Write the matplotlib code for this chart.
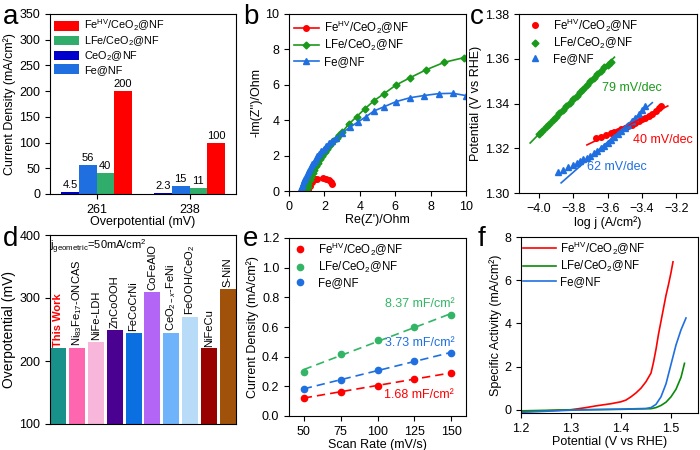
import numpy as np
import matplotlib
matplotlib.use("Agg")
import matplotlib.pyplot as plt

plt.rcParams['font.family'] = ['Liberation Sans', 'DejaVu Sans']
plt.rcParams['mathtext.fontset'] = 'custom'
plt.rcParams['mathtext.rm'] = 'Liberation Sans'
plt.rcParams['mathtext.it'] = 'Liberation Sans:italic'
plt.rcParams['mathtext.bf'] = 'Liberation Sans:bold'
plt.rcParams['font.size'] = 9
plt.rcParams['axes.linewidth'] = 0.8
plt.rcParams['xtick.major.size'] = 3.5
plt.rcParams['ytick.major.size'] = 3.5
plt.rcParams['xtick.major.width'] = 0.8
plt.rcParams['ytick.major.width'] = 0.8

RED = '#ff0000'
GREEN = '#1a991a'
BLUE = '#1f6fe0'
LAB_HV = r'Fe$^{\rm HV}$/CeO$_2$@NF'
LAB_L = r'LFe/CeO$_2$@NF'
LAB_FE = 'Fe@NF'

# a: current density at two overpotentials
groups_a = ['261', '238']
a_ceo2 = [4.5, 2.3]
a_fe = [56, 15]
a_lfe = [40, 11]
a_hv = [200, 100]

# b: Nyquist plots
b_hv_x = [1.1, 1.2, 1.3, 1.45, 1.6, 1.9, 2.1, 2.25, 2.35, 2.45]
b_hv_y = [0.05, 0.3, 0.5, 0.65, 0.7, 0.72, 0.68, 0.6, 0.5, 0.42]
b_l_x = [1.0, 1.05, 1.1, 1.17, 1.25, 1.33, 1.42, 1.52, 1.63, 1.75, 1.88, 2.02, 2.17, 2.33,
         2.5, 2.7, 2.85, 3.02, 3.37, 3.82, 4.27, 4.8, 5.37, 6.05, 6.84, 7.73, 8.77, 9.87]
b_l_y = [0.0, 0.2, 0.4, 0.6, 0.8, 1.0, 1.2, 1.4, 1.6, 1.8, 2.0, 2.2, 2.4, 2.6,
         2.8, 3.0, 3.15, 3.35, 3.77, 4.2, 4.63, 5.1, 5.5, 5.99, 6.4, 6.84, 7.27, 7.53]
b_fe_x = [0.65, 0.7, 0.75, 0.8, 0.87, 0.93, 1.0, 1.07, 1.15, 1.23, 1.32, 1.41, 1.5, 1.6,
          1.7, 1.82, 1.95, 2.1, 2.25, 2.45, 2.68, 3.02, 3.44, 3.9, 4.35, 4.8, 5.37, 6.05,
          6.84, 7.6, 8.45, 9.26, 10.0]
b_fe_y = [0.0, 0.15, 0.3, 0.45, 0.6, 0.75, 0.9, 1.05, 1.2, 1.35, 1.5, 1.65, 1.8, 1.95,
          2.1, 2.25, 2.4, 2.55, 2.7, 2.85, 2.98, 3.3, 3.6, 3.9, 4.2, 4.52, 4.76, 5.05,
          5.27, 5.39, 5.5, 5.52, 5.39]

# c: Tafel plots
c_l_x = [-4.00, -3.98, -3.96, -3.94, -3.92, -3.90, -3.88, -3.86, -3.84, -3.82, -3.80,
         -3.78, -3.76, -3.74, -3.72, -3.70, -3.68, -3.66, -3.64, -3.62, -3.60, -3.58]
c_l_y = [1.3262, 1.3277, 1.3293, 1.3309, 1.3325, 1.3341, 1.3357, 1.3372, 1.3388, 1.3404,
         1.3420, 1.3435, 1.3451, 1.3467, 1.3483, 1.3499, 1.3514, 1.3530, 1.3546, 1.3562,
         1.3574, 1.3585]
c_hv_x = [-3.67, -3.64, -3.61, -3.58, -3.56, -3.54, -3.52, -3.50, -3.48, -3.46, -3.44,
          -3.42, -3.40, -3.38, -3.36, -3.34, -3.32, -3.30, -3.29]
c_hv_y = [1.3244, 1.3252, 1.3258, 1.3266, 1.3272, 1.3278, 1.3285, 1.3292, 1.3299, 1.3306,
          1.3313, 1.3321, 1.3329, 1.3337, 1.3346, 1.3355, 1.3366, 1.3378, 1.3388]
c_fe_x = [-3.89, -3.86, -3.83, -3.80, -3.78, -3.76, -3.74, -3.72, -3.70, -3.68, -3.66,
          -3.64, -3.62, -3.60, -3.58, -3.56, -3.54, -3.52, -3.50, -3.48, -3.46, -3.44,
          -3.42, -3.40, -3.38]
c_fe_y = [1.3094, 1.3104, 1.3115, 1.3126, 1.3133, 1.3141, 1.3150, 1.3158, 1.3167, 1.3177,
          1.3188, 1.3199, 1.3211, 1.3223, 1.3236, 1.3249, 1.3262, 1.3276, 1.3290, 1.3305,
          1.3320, 1.3336, 1.3352, 1.3370, 1.3390]

# d: comparison with literature
d_names = ['This Work', r'Ni$_{83}$Fe$_{17}$-ONCAS', 'NiFe-LDH', 'ZnCoOOH', 'FeCoCrNi',
           'CoFeAlO', r'CeO$_{2-x}$-FeNi', r'FeOOH/CeO$_2$', 'NiFeCu', 'S-NiN']
d_vals = [220, 221, 230, 250, 245, 310, 245, 270, 220, 315]
d_colors = ['#17918a', '#ff66b0', '#f7b6da', '#4a0090', '#0a6fe0',
            '#b366f5', '#6fb4fb', '#b8dcf8', '#990000', '#a0520a']

# e: double-layer capacitance
e_rate = [50, 75, 100, 125, 150]
e_hv = [0.12, 0.165, 0.205, 0.25, 0.29]
e_l = [0.30, 0.415, 0.515, 0.60, 0.68]
e_fe = [0.18, 0.245, 0.31, 0.37, 0.425]

# f: specific activity
f_hv_x = [1.20, 1.25, 1.30, 1.33, 1.35, 1.38, 1.40, 1.41, 1.42, 1.43, 1.44, 1.45, 1.46,
          1.465, 1.47, 1.475, 1.48, 1.485, 1.49, 1.495, 1.50, 1.504]
f_hv_y = [-0.08, -0.05, 0.0, 0.1, 0.18, 0.28, 0.37, 0.45, 0.6, 0.78, 1.0, 1.3, 1.7,
          2.2, 2.8, 3.5, 4.1, 4.7, 5.3, 5.8, 6.35, 6.85]
f_fe_x = [1.20, 1.30, 1.40, 1.45, 1.46, 1.47, 1.48, 1.49, 1.50, 1.51, 1.52, 1.53]
f_fe_y = [-0.12, -0.02, 0.03, 0.06, 0.1, 0.25, 0.6, 1.2, 2.1, 3.0, 3.7, 4.25]
f_l_x = [1.20, 1.30, 1.40, 1.46, 1.47, 1.48, 1.49, 1.50, 1.51, 1.52, 1.527]
f_l_y = [-0.05, 0.0, 0.02, 0.05, 0.1, 0.2, 0.35, 0.6, 0.95, 1.5, 2.15]


def box(l, r, t, b):
    return [l / 700, 1 - b / 450, (r - l) / 700, (b - t) / 450]


def leg(ax, **kw):
    opts = dict(loc='upper left', frameon=False, fontsize=8.3, labelspacing=0.2,
                borderaxespad=0.1, borderpad=0.1)
    opts.update(kw)
    return ax.legend(**opts)


fig = plt.figure(figsize=(7, 4.5), dpi=100)

# ---- a
ax = fig.add_axes(box(50, 236, 14, 194))
xg = np.arange(len(groups_a))
w = 0.19
series = [(a_ceo2, '#0000cd', r'CeO$_2$@NF'), (a_fe, BLUE, LAB_FE),
          (a_lfe, '#30ad6a', LAB_L), (a_hv, RED, LAB_HV)]
bars = {}
for i, (vals, col, lab) in enumerate(series):
    pos = xg + (i - 1.5) * w
    bars[lab] = ax.bar(pos, vals, w, color=col, label=lab)
    for p, v in zip(pos, vals):
        ax.text(p, v + 4, f'{v:g}', ha='center', va='bottom', fontsize=8)
ax.set_xlim(-0.5, 1.5)
ax.set_ylim(0, 350)
ax.set_yticks(range(0, 351, 50))
ax.set_xticks(xg)
ax.set_xticklabels(groups_a)
ax.set_xlabel('Overpotential (mV)', labelpad=0)
ax.set_ylabel('Current Density (mA/cm²)', labelpad=2)
order = [LAB_HV, LAB_L, r'CeO$_2$@NF', LAB_FE]
leg(ax, handles=[bars[k] for k in order], labels=order, fontsize=7.8,
    handlelength=2.3, handleheight=1.0, labelspacing=0.1, handletextpad=0.5,
    borderpad=0.25)
fig.text(3 / 700, 1 - 4 / 450, 'a', fontsize=20, va='top')

# ---- b
ax = fig.add_axes(box(289, 466, 14, 191))
ax.plot(b_hv_x, b_hv_y, '-o', color=RED, ms=4, lw=1.2, label=LAB_HV)
ax.plot(b_l_x, b_l_y, '-D', color=GREEN, ms=3.5, lw=1.2, label=LAB_L)
ax.plot(b_fe_x, b_fe_y, '-^', color=BLUE, ms=4.5, lw=1.2, label=LAB_FE)
ax.set_xlim(0, 10)
ax.set_ylim(0, 10)
ax.set_xticks(range(0, 11, 2))
ax.set_yticks(range(0, 11, 2))
ax.set_xlabel("Re(Z')/Ohm", labelpad=1)
ax.set_ylabel("-Im(Z'')/Ohm", labelpad=2)
leg(ax, handlelength=2.2, handletextpad=0.4, borderpad=0.3)
fig.text(243 / 700, 1 - 4 / 450, 'b', fontsize=20, va='top')

# ---- c
ax = fig.add_axes(box(519, 697, 14, 193))
ax.plot(c_hv_x, c_hv_y, 'o', color=RED, ms=4, label=LAB_HV)
ax.plot(c_l_x, c_l_y, 'D', color=GREEN, ms=3.5, label=LAB_L)
ax.plot(c_fe_x, c_fe_y, '^', color=BLUE, ms=4.5, label=LAB_FE)
k = np.polyfit(c_hv_x, c_hv_y, 1)
xx = np.array([-3.72, -3.25])
ax.plot(xx, np.polyval(k, xx), color=RED, lw=1.2)
k = np.polyfit(c_l_x, c_l_y, 1)
xx = np.array([-4.05, -3.56])
ax.plot(xx, np.polyval(k, xx), color=GREEN, lw=1.2)
sel = np.array(c_fe_x) > -3.73
k = np.polyfit(np.array(c_fe_x)[sel], np.array(c_fe_y)[sel], 1)
xx = np.array([-3.87, -3.34])
ax.plot(xx, np.polyval(k, xx), color=BLUE, lw=1.2)
ax.text(-3.635, 1.347, '79 mV/dec', color=GREEN, fontsize=9, va='center')
ax.text(-3.455, 1.3235, '40 mV/dec', color=RED, fontsize=9, va='center')
ax.text(-3.72, 1.3115, '62 mV/dec', color=BLUE, fontsize=9, va='center')
ax.set_xlim(-4.115, -3.08)
ax.set_ylim(1.30, 1.38)
ax.set_xticks([-4.0, -3.8, -3.6, -3.4, -3.2])
ax.set_yticks([1.30, 1.32, 1.34, 1.36, 1.38])
ax.set_xlabel('log j (A/cm²)', labelpad=1)
ax.set_ylabel('Potential (V vs RHE)', labelpad=2)
leg(ax, handlelength=1.5, handletextpad=0.8, bbox_to_anchor=(0.03, 1.0))
fig.text(470 / 700, 1 - 4 / 450, 'c', fontsize=20, va='top')

# ---- d
ax = fig.add_axes(box(50, 236, 235, 424))
xd = np.arange(len(d_vals))
ax.bar(xd, d_vals, 0.85, color=d_colors)
for i, (n, v) in enumerate(zip(d_names, d_vals)):
    if i == 0:
        ax.text(i, v + 3, n, rotation=90, ha='center', va='bottom', color=RED,
                fontweight='bold', fontsize=8)
    else:
        ax.text(i, v + 3, n, rotation=90, ha='center', va='bottom', fontsize=8)
ax.text(-0.42, 396, r'j$_{\rm geometric}$=50mA/cm$^2$', fontsize=8, va='top')
ax.set_xlim(-0.43, 9.43)
ax.set_ylim(100, 400)
ax.set_yticks([100, 200, 300, 400])
ax.set_xticks([])
ax.set_ylabel('Overpotential (mV)', fontsize=10, labelpad=2)
fig.text(3 / 700, 1 - 226 / 450, 'd', fontsize=20, va='top')

# ---- e
ax = fig.add_axes(box(289, 466, 238, 416))
EGREEN = '#33b566'
for vals, col, lab in [(e_hv, RED, LAB_HV), (e_l, EGREEN, LAB_L), (e_fe, BLUE, LAB_FE)]:
    ax.plot(e_rate, vals, 'o', color=col, ms=4.5, label=lab)
    k = np.polyfit(e_rate, vals, 1)
    ax.plot(e_rate, np.polyval(k, e_rate), '--', color=col, lw=1.2, dashes=(5, 3))
ax.text(152, 0.757, '8.37 mF/cm²', color=EGREEN, ha='right', va='center', fontsize=9)
ax.text(152, 0.49, '3.73 mF/cm²', color=BLUE, ha='right', va='center', fontsize=9)
ax.text(152, 0.142, '1.68 mF/cm²', color=RED, ha='right', va='center', fontsize=9)
ax.set_xlim(40, 160)
ax.set_ylim(0, 1.2)
ax.set_xticks(e_rate)
ax.set_yticks(np.arange(0, 1.21, 0.2))
ax.set_yticklabels(['0.0', '0.2', '0.4', '0.6', '0.8', '1.0', '1.2'])
ax.set_xlabel('Scan Rate (mV/s)', labelpad=1)
ax.set_ylabel('Current Density (mA/cm²)', labelpad=2)
leg(ax, handlelength=1.5, handletextpad=0.8, bbox_to_anchor=(0.0, 1.0))
fig.text(243 / 700, 1 - 226 / 450, 'e', fontsize=20, va='top')

# ---- f
ax = fig.add_axes(box(521, 698, 237, 413))
ax.plot(f_hv_x, f_hv_y, color=RED, lw=1.2, label=LAB_HV)
ax.plot(f_l_x, f_l_y, color='#0a8a0a', lw=1.2, label=LAB_L)
ax.plot(f_fe_x, f_fe_y, color=BLUE, lw=1.2, label=LAB_FE)
ax.set_xlim(1.2, 1.554)
ax.set_ylim(-0.15, 8)
ax.set_xticks([1.2, 1.3, 1.4, 1.5])
ax.set_yticks([0, 2, 4, 6, 8])
ax.set_xlabel('Potential (V vs RHE)', labelpad=1)
ax.set_ylabel('Specific Activity (mA/cm²)', labelpad=2)
leg(ax, handlelength=2.8, handletextpad=0.4)
fig.text(478 / 700, 1 - 226 / 450, 'f', fontsize=20, va='top')

fig.savefig('out.png', dpi=100)
